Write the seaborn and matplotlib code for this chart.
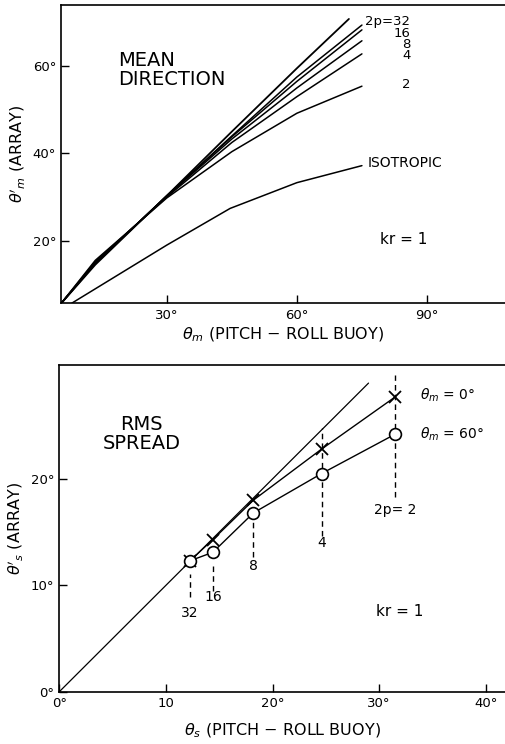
import matplotlib
matplotlib.use("Agg")
import matplotlib.pyplot as plt
import seaborn as sns
import pandas as pd

# ---- top panel: mean direction ----
mean_x = [5.6, 13.5, 30, 45, 60, 75]
ident_x = [5.6, 13.5, 30, 45, 60, 72]
ident_y = [5.6, 14.5, 30.3, 45.0, 59.5, 70.8]
mean_curves = {
    "32": [5.6, 14.8, 30.3, 44.0, 57.5, 69.4],
    "16": [5.6, 14.8, 30.3, 43.8, 56.5, 68.3],
    "8": [5.6, 15.0, 30.2, 43.3, 55.0, 65.8],
    "4": [5.6, 15.2, 30.0, 42.5, 53.0, 62.8],
    "2": [5.6, 15.5, 29.8, 40.4, 49.2, 55.4],
}
mean_labels = ["2p=32", "16", "8", "4"]
iso_x = [8.1, 30, 44.6, 60, 75]
iso_y = [5.7, 19.0, 27.4, 33.3, 37.2]

# ---- bottom panel: rms spread ----
theta_s = [12.25, 14.4, 18.2, 24.6, 31.5]
spread_m0 = [12.3, 14.3, 18.0, 22.8, 27.7]
spread_m60 = [12.3, 13.1, 16.8, 20.5, 24.2]
line_x = [0, 29]
line_y = [0, 29]
dash_top = [11.1, 12.0, 16.3, 24.8, 29.8]
dash_bottom = [8.9, 9.5, 12.7, 14.6, 18.3]
p_labels = ["32", "16", "8", "4", "2p= 2"]
p_label_y = [7.4, 8.9, 11.8, 14.0, 17.1]

sns.set_style("ticks")
plt.rcParams["font.family"] = ["DejaVu Sans"]
plt.rcParams["xtick.direction"] = "in"
plt.rcParams["ytick.direction"] = "in"
plt.rcParams["text.color"] = "black"
plt.rcParams["axes.labelcolor"] = "black"

fig = plt.figure(figsize=(5.05, 7.44), dpi=100)
ax1 = fig.add_axes([0.1208, 0.5923, 0.8792, 0.401])
ax2 = fig.add_axes([0.1175, 0.0703, 0.8825, 0.4391])

# top
df = pd.DataFrame({"x": ident_x, "y": ident_y})
sns.lineplot(data=df, x="x", y="y", ax=ax1, color="black", lw=1.3,
             estimator=None, sort=False)
for key, ys in mean_curves.items():
    sns.lineplot(x=mean_x, y=ys, ax=ax1, color="black", lw=1.1,
                 estimator=None, sort=False)
sns.lineplot(x=iso_x, y=iso_y, ax=ax1, color="black", lw=1.1,
             estimator=None, sort=False)
ax1.text(86.2, 71.6, "\n".join(mean_labels), ha="right", va="top",
         fontsize=9.5, linespacing=0.82)
ax1.text(86.2, 55.7, "2", ha="right", va="center", fontsize=9.5)
ax1.text(76.3, 37.7, "ISOTROPIC", ha="left", va="center", fontsize=10)
ax1.text(18.8, 59.2, "MEAN\nDIRECTION", ha="left", va="center",
         fontsize=14, linespacing=1.0)
ax1.text(84.6, 20.2, "kr = 1", ha="center", va="center", fontsize=11)

ax1.set_xlim(5.6, 108)
ax1.set_ylim(5.66, 74)
ax1.set_xticks([30, 60, 90])
ax1.set_xticklabels(["30°", "60°", "90°"])
ax1.set_yticks([20, 40, 60])
ax1.set_yticklabels(["20°", "40°", "60°"])
ax1.set_xlabel(r"$\theta_m$ (PITCH $-$ ROLL BUOY)", fontsize=11.5, labelpad=3)
ax1.set_ylabel(r"$\theta'_m$ (ARRAY)", fontsize=11.5, labelpad=4)

# bottom
sns.lineplot(x=line_x, y=line_y, ax=ax2, color="black", lw=0.9,
             estimator=None, sort=False)
sns.lineplot(x=theta_s, y=spread_m0, ax=ax2, color="black", lw=1.0,
             marker="x", markersize=8, markeredgewidth=1.3,
             markeredgecolor="black", estimator=None, sort=False, zorder=3)
sns.lineplot(x=theta_s, y=spread_m60, ax=ax2, color="black", lw=1.0,
             marker="o", markersize=8.5, markerfacecolor="white",
             markeredgecolor="black", markeredgewidth=1.2,
             estimator=None, sort=False, zorder=3)
ax2.vlines(theta_s, dash_bottom, dash_top, colors="black",
           linestyles=(0, (4, 3)), lw=1.0, zorder=1)
for xx, lab, yy in zip(theta_s, p_labels, p_label_y):
    ax2.text(xx, yy, lab, ha="center", va="center", fontsize=10)
ax2.text(33.8, 27.9, r"$\theta_m$ = 0°", ha="left", va="center", fontsize=10)
ax2.text(33.8, 24.2, r"$\theta_m$ = 60°", ha="left", va="center", fontsize=10)
ax2.text(7.7, 24.2, "RMS\nSPREAD", ha="center", va="center",
         fontsize=14, linespacing=1.0)
ax2.text(31.9, 7.5, "kr = 1", ha="center", va="center", fontsize=11)

ax2.set_xlim(0, 41.8)
ax2.set_ylim(0, 30.7)
ax2.set_xticks([0, 10, 20, 30, 40])
ax2.set_xticklabels(["0°", "10", "20°", "30°", "40°"])
ax2.set_yticks([0, 10, 20])
ax2.set_yticklabels(["0°", "10°", "20°"])
ax2.set_xlabel(r"$\theta_s$ (PITCH $-$ ROLL BUOY)", fontsize=11.5, labelpad=8)
ax2.set_ylabel(r"$\theta'_s$ (ARRAY)", fontsize=11.5, labelpad=4)

for ax in (ax1, ax2):
    ax.spines["right"].set_visible(False)
    ax.spines["top"].set_visible(True)
    for s in ("left", "bottom", "top"):
        ax.spines[s].set_linewidth(1.2)
        ax.spines[s].set_color("black")
    ax.tick_params(length=6, width=1, labelsize=9.5, colors="black")
    ax.tick_params(axis="x", pad=4)

fig.savefig("out.png", dpi=100)
